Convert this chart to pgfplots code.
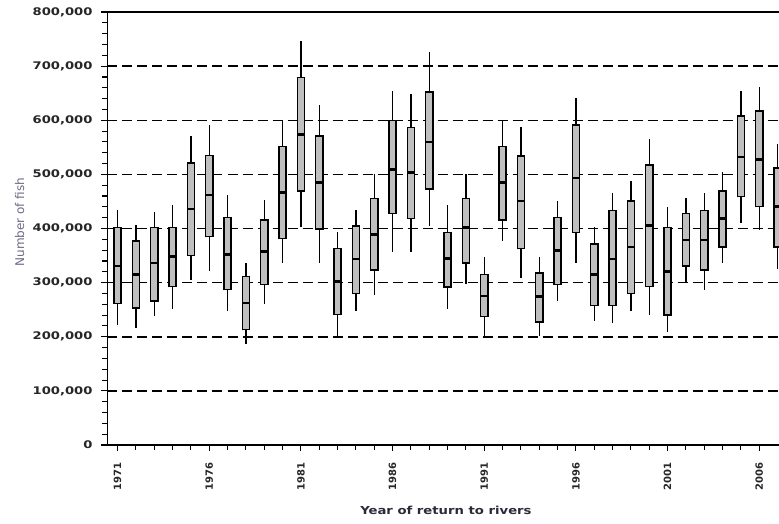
\documentclass[border=0pt]{standalone}
\usepackage{pgfplots}
\pgfplotsset{compat=1.18}
\usepackage{pgfplotstable}
\usepackage{fontspec}
\newfontfamily\hfont[FakeStretch=1.25]{DejaVu Sans}
\newfontfamily\lfont[FakeStretch=1.2]{DejaVu Sans}
\newfontfamily\vfont{DejaVu Sans}
\definecolor{ylab}{HTML}{6B6B85}
\definecolor{xlab}{HTML}{2A2A3A}
\definecolor{boxfill}{HTML}{BFBFBF}

% pos = year - 1971; values in thousands of fish
\pgfplotstableread{
pos year lw q1 med q3 uw
0 1971 221 261 331 402 434
1 1972 216 253 315 377 407
2 1973 238 266 336 402 430
3 1974 252 293 348 402 444
4 1975 305 350 436 521 571
5 1976 321 385 462 535 592
6 1977 247 287 352 420 461
7 1978 187 213 262 311 337
8 1979 260 297 357 416 453
9 1980 336 381 467 552 600
10 1981 402 469 574 679 747
11 1982 336 399 485 571 628
12 1983 201 241 302 363 394
13 1984 247 280 344 405 435
14 1985 278 323 389 455 500
15 1986 357 428 509 599 654
16 1987 357 419 504 587 649
17 1988 404 473 560 652 726
18 1989 252 292 345 393 443
19 1990 297 336 402 455 500
20 1991 201 237 275 315 347
21 1992 376 416 485 552 599
22 1993 309 363 451 534 587
23 1994 201 227 274 318 347
24 1995 266 297 359 420 451
25 1996 336 393 493 591 641
26 1997 230 258 315 371 402
27 1998 226 258 344 433 466
28 1999 247 280 366 451 487
29 2000 240 293 405 517 566
30 2001 209 240 321 402 439
31 2002 302 331 379 428 456
32 2003 287 323 379 433 466
33 2004 336 366 418 469 504
34 2005 410 459 532 608 654
35 2006 397 441 527 617 662
36 2007 326 366 441 512 557
}\runs

\begin{document}
\begin{tikzpicture}
\begin{axis}[
  scale only axis,
  at={(0,0)}, anchor=south west,
  width=671.5pt, height=433pt,
  xmin=-0.55, xmax=36.08,
  ymin=0, ymax=800,
  axis x line=box, axis y line=left,
  axis line style={black, line width=1.3pt, -},
  xtick={0,5,...,35},
  xticklabels={1971,1976,1981,1986,1991,1996,2001,2006},
  minor x tick num=4,
  ytick={0,100,...,800},
  yticklabels={0,{100,000},{200,000},{300,000},{400,000},{500,000},{600,000},{700,000},{800,000}},
  minor y tick num=4,
  xtick pos=bottom, ytick pos=left,
  tick align=outside,
  major tick length=6pt, minor tick length=5pt,
  tick style={black, line width=1.1pt},
  ymajorgrids,
  grid style={black, line width=1.5pt, dash pattern=on 10pt off 5pt},
  yticklabel style={font=\hfont\bfseries\fontsize{10.5}{12}\selectfont, color=black!85, xshift=-5.5pt},
  xticklabel style={font=\vfont\bfseries\fontsize{10}{12}\selectfont, color=black!85,
    rotate=90, anchor=east, xshift=-8pt},
  xlabel={Year of return to rivers},
  ylabel={Number of fish},
  every axis x label/.style={at={(axis description cs:0.504,-0.150)}, anchor=center,
    font=\lfont\bfseries\fontsize{11}{13}\selectfont, color=xlab},
  every axis y label/.style={at={(axis description cs:-0.131,0.515)}, anchor=center, rotate=90,
    font=\vfont\fontsize{12}{14}\selectfont, color=ylab},
]
% whiskers
\addplot[draw=none, mark=none,
  error bars/.cd, y dir=both, y explicit, error mark=none,
  error bar style={draw=black, line width=1.4pt}]
  table[x=pos, y=med, y error plus expr=\thisrow{uw}-\thisrow{med},
        y error minus expr=\thisrow{med}-\thisrow{lw}] {\runs};
% box outline (black)
\addplot[draw=none, mark=none,
  error bars/.cd, y dir=plus, y explicit, error mark=none,
  error bar style={draw=black, line width=8.6pt}]
  table[x=pos, y expr=\thisrow{q1}-1.3, y error plus expr=\thisrow{q3}-\thisrow{q1}+2.6] {\runs};
% box fill (grey)
\addplot[draw=none, mark=none,
  error bars/.cd, y dir=plus, y explicit, error mark=none,
  error bar style={draw=boxfill, line width=5.8pt}]
  table[x=pos, y expr=\thisrow{q1}+1.3, y error plus expr=\thisrow{q3}-\thisrow{q1}-2.6] {\runs};
% medians
\addplot[draw=none, mark=none,
  error bars/.cd, x dir=both, x fixed=0.2, error mark=none,
  error bar style={draw=black, line width=2.6pt}]
  table[x=pos, y=med] {\runs};
\end{axis}
\pgfresetboundingbox
\useasboundingbox (-107.5pt,-78pt) rectangle (671.5pt,445pt);
\end{tikzpicture}
\end{document}
